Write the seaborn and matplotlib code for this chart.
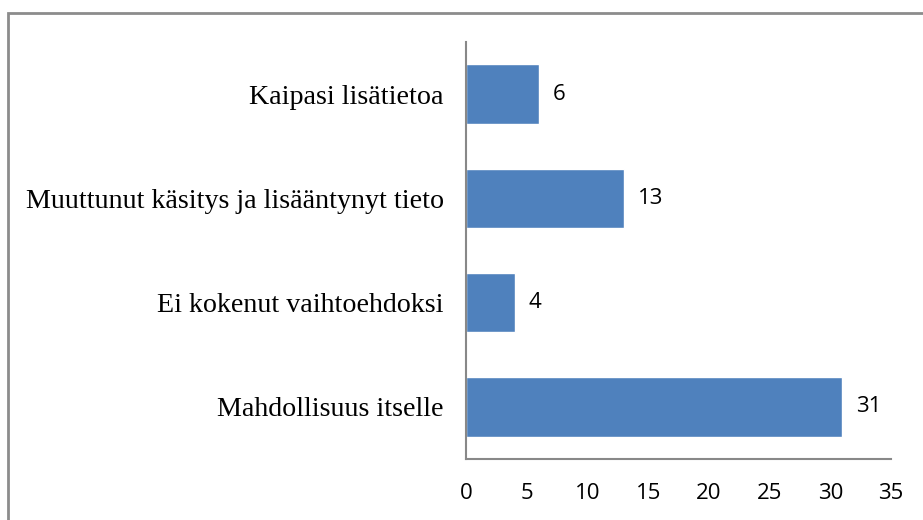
import matplotlib
matplotlib.use("Agg")
import matplotlib.pyplot as plt
import seaborn as sns
import pandas as pd
from matplotlib.patches import Rectangle

categories = ["Kaipasi lisätietoa",
              "Muuttunut käsitys ja lisääntynyt tieto",
              "Ei kokenut vaihtoehdoksi",
              "Mahdollisuus itselle"]
values = [6, 13, 4, 31]
xticks = [0, 5, 10, 15, 20, 25, 30, 35]

df = pd.DataFrame({"category": categories, "value": values})

sns.set_style("white")
fig = plt.figure(figsize=(9.23, 5.2), dpi=100)
ax = fig.add_axes([466 / 923, 1 - 459 / 520, 425 / 923, 417 / 520])

sns.barplot(data=df, y="category", x="value", orient="h", color="#4F81BD",
            saturation=1, width=0.57, ax=ax)

for c in ax.containers:
    ax.bar_label(c, padding=10, fontsize=16, family="Open Sans", color="black")

ax.set_xlim(0, 35)
ax.set_ylim(3.5, -0.5)
ax.set_xticks(xticks)
ax.set_xticklabels([str(t) for t in xticks], family="Open Sans", fontsize=16,
                   color="black")
ax.set_yticks(range(len(categories)))
ax.set_yticklabels(categories, family="Liberation Serif", fontsize=20.2,
                   color="black")
ax.tick_params(axis="x", length=0, pad=17)
ax.tick_params(axis="y", length=0, pad=16)
ax.set_xlabel("")
ax.set_ylabel("")

for s in ["top", "right"]:
    ax.spines[s].set_visible(False)
for s in ["left", "bottom"]:
    ax.spines[s].set_color("#888888")
    ax.spines[s].set_linewidth(1.5)

fig.patches.append(Rectangle((8 / 923, -0.1), 1.2, 1 - 13 / 520 + 0.1,
                             transform=fig.transFigure, fill=False,
                             edgecolor="#8c8c8c", linewidth=2))

fig.savefig("out.png", dpi=100)
